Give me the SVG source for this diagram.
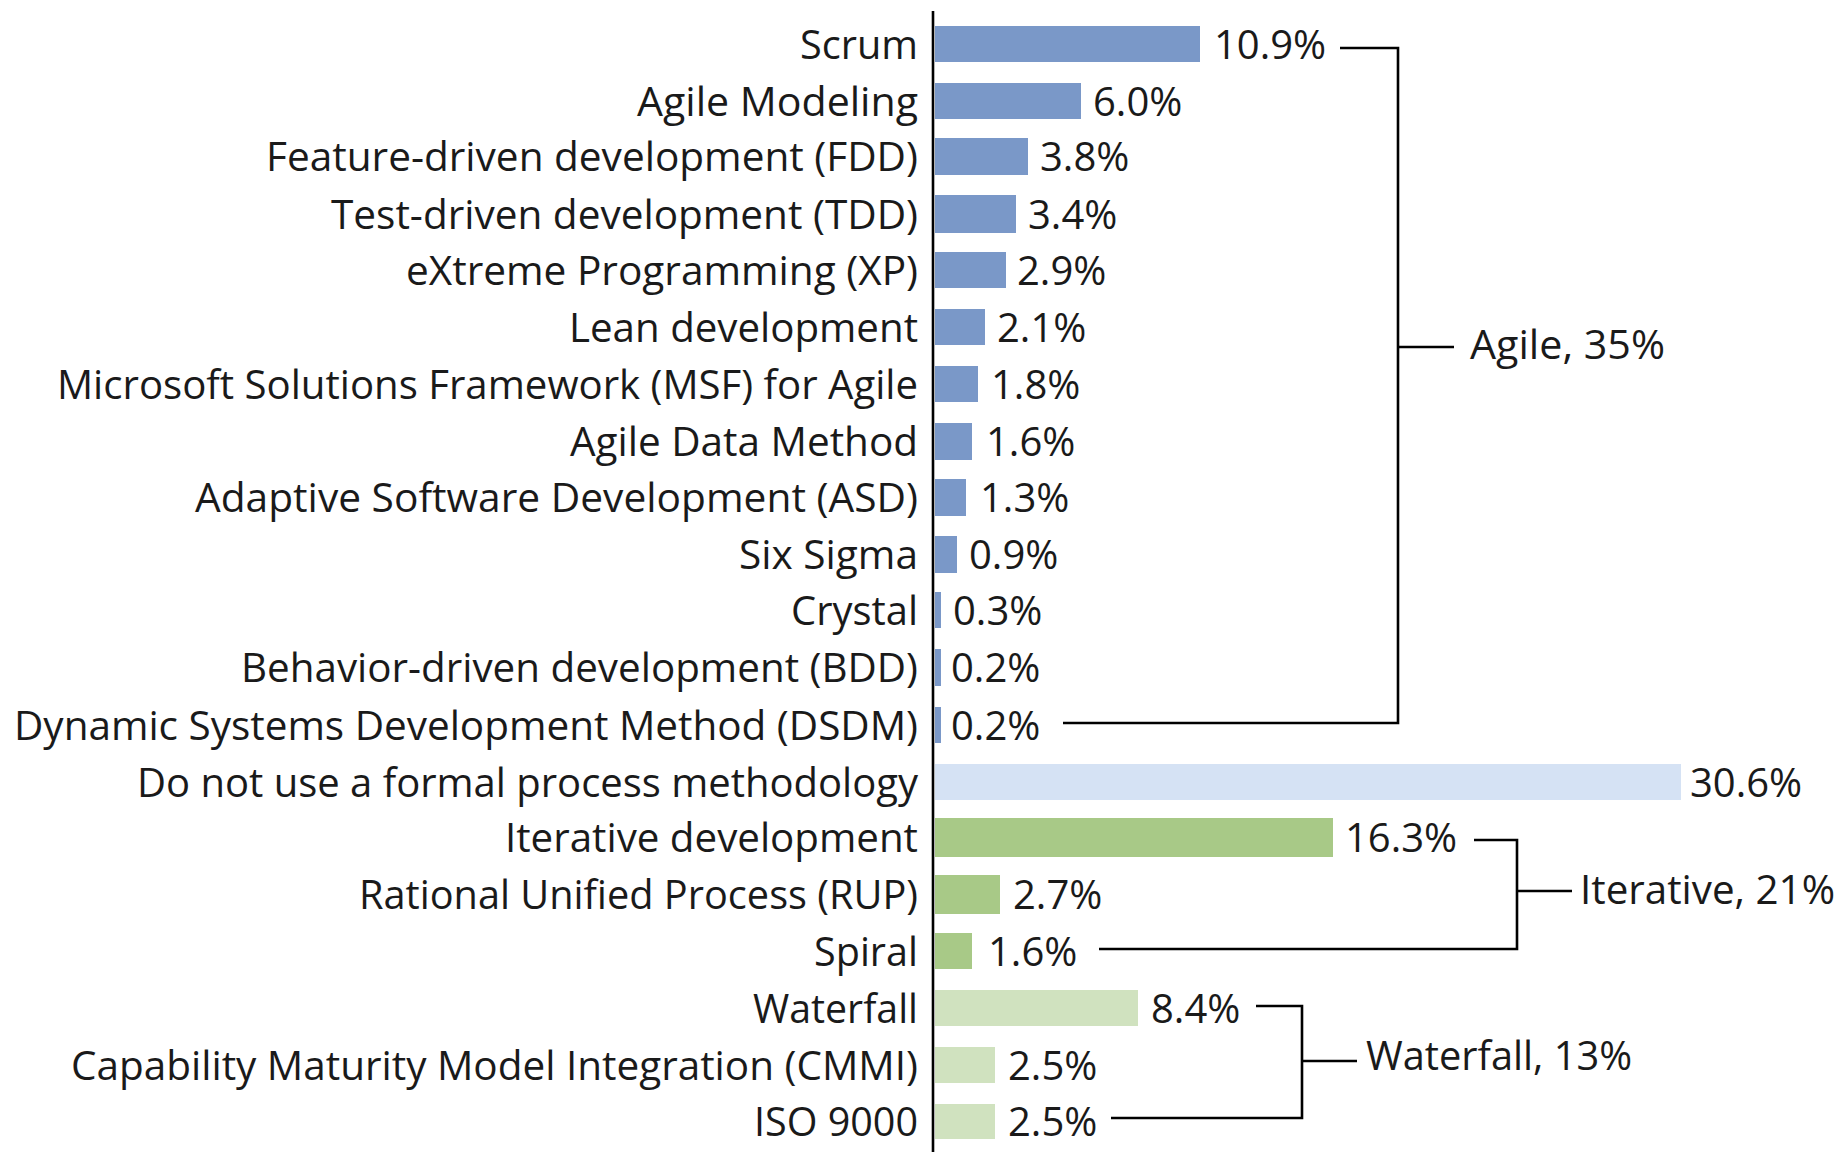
<svg xmlns="http://www.w3.org/2000/svg" width="1845" height="1152" viewBox="0 0 1845 1152">
<style>
text{font-family:"Open Sans","Noto Sans","Liberation Sans",sans-serif;font-size:40px;fill:#1a1a1a}
.agile{fill:#7a98c8}
.none{fill:#d5e2f4}
.iter{fill:#a8c987}
.wf{fill:#d0e2bf}
.ln{fill:none;stroke:#000;stroke-width:2.6}
</style>
<rect width="1845" height="1152" fill="#fff"/>
<g id="axis"><line class="ln" x1="933" y1="11" x2="933" y2="1152"/></g>
<g id="scrum"><rect class="agile" x="935" y="26" width="265" height="36"/><text x="800" y="58.5" textLength="118" lengthAdjust="spacingAndGlyphs">Scrum</text><text x="1214" y="58.5">10.9%</text></g>
<g id="agile-modeling"><rect class="agile" x="935" y="83" width="146" height="36"/><text x="637" y="115.5" textLength="281" lengthAdjust="spacingAndGlyphs">Agile Modeling</text><text x="1093" y="115.5">6.0%</text></g>
<g id="fdd"><rect class="agile" x="935" y="138" width="93" height="37"/><text x="266" y="171" textLength="652" lengthAdjust="spacingAndGlyphs">Feature-driven development (FDD)</text><text x="1040" y="171">3.8%</text></g>
<g id="tdd"><rect class="agile" x="935" y="195" width="81" height="38"/><text x="331" y="228.5" textLength="587" lengthAdjust="spacingAndGlyphs">Test-driven development (TDD)</text><text x="1028" y="228.5">3.4%</text></g>
<g id="xp"><rect class="agile" x="935" y="252" width="71" height="36"/><text x="406" y="284.5" textLength="512" lengthAdjust="spacingAndGlyphs">eXtreme Programming (XP)</text><text x="1017" y="284.5">2.9%</text></g>
<g id="lean"><rect class="agile" x="935" y="309" width="50" height="36"/><text x="569" y="341.5" textLength="349" lengthAdjust="spacingAndGlyphs">Lean development</text><text x="997" y="341.5">2.1%</text></g>
<g id="msf"><rect class="agile" x="935" y="366" width="43" height="36"/><text x="57" y="398.5" textLength="861" lengthAdjust="spacingAndGlyphs">Microsoft Solutions Framework (MSF) for Agile</text><text x="991" y="398.5">1.8%</text></g>
<g id="adm"><rect class="agile" x="935" y="423" width="37" height="37"/><text x="570" y="456" textLength="348" lengthAdjust="spacingAndGlyphs">Agile Data Method</text><text x="986" y="456">1.6%</text></g>
<g id="asd"><rect class="agile" x="935" y="479" width="31" height="37"/><text x="195" y="512" textLength="723" lengthAdjust="spacingAndGlyphs">Adaptive Software Development (ASD)</text><text x="980" y="512">1.3%</text></g>
<g id="six-sigma"><rect class="agile" x="935" y="536" width="22" height="37"/><text x="739" y="569" textLength="179" lengthAdjust="spacingAndGlyphs">Six Sigma</text><text x="969" y="569">0.9%</text></g>
<g id="crystal"><rect class="agile" x="935" y="592" width="6" height="36"/><text x="791" y="624.5" textLength="127" lengthAdjust="spacingAndGlyphs">Crystal</text><text x="953" y="624.5">0.3%</text></g>
<g id="bdd"><rect class="agile" x="935" y="649" width="6" height="37"/><text x="241" y="682" textLength="677" lengthAdjust="spacingAndGlyphs">Behavior-driven development (BDD)</text><text x="951" y="682">0.2%</text></g>
<g id="dsdm"><rect class="agile" x="935" y="707" width="6" height="36"/><text x="14" y="739.5" textLength="904" lengthAdjust="spacingAndGlyphs">Dynamic Systems Development Method (DSDM)</text><text x="951" y="739.5">0.2%</text></g>
<g id="no-method"><rect class="none" x="935" y="764" width="746" height="36"/><text x="137" y="796.5" textLength="781" lengthAdjust="spacingAndGlyphs">Do not use a formal process methodology</text><text x="1690" y="796.5">30.6%</text></g>
<g id="iterative-dev"><rect class="iter" x="935" y="818" width="398" height="39"/><text x="505" y="852" textLength="413" lengthAdjust="spacingAndGlyphs">Iterative development</text><text x="1345" y="852">16.3%</text></g>
<g id="rup"><rect class="iter" x="935" y="875" width="65" height="39"/><text x="359" y="909" textLength="559" lengthAdjust="spacingAndGlyphs">Rational Unified Process (RUP)</text><text x="1013" y="909">2.7%</text></g>
<g id="spiral"><rect class="iter" x="935" y="933" width="37" height="36"/><text x="814" y="965.5" textLength="104" lengthAdjust="spacingAndGlyphs">Spiral</text><text x="988" y="965.5">1.6%</text></g>
<g id="waterfall"><rect class="wf" x="935" y="990" width="203" height="36"/><text x="753" y="1022.5" textLength="165" lengthAdjust="spacingAndGlyphs">Waterfall</text><text x="1151" y="1022.5">8.4%</text></g>
<g id="cmmi"><rect class="wf" x="935" y="1047" width="60" height="36"/><text x="71" y="1079.5" textLength="847" lengthAdjust="spacingAndGlyphs">Capability Maturity Model Integration (CMMI)</text><text x="1008" y="1079.5">2.5%</text></g>
<g id="iso"><rect class="wf" x="935" y="1104" width="60" height="35"/><text x="754" y="1136" textLength="164" lengthAdjust="spacingAndGlyphs">ISO 9000</text><text x="1008" y="1136">2.5%</text></g>
<g id="connectors">
<path class="ln" d="M1340,48 H1398 V723 H1063"/>
<path class="ln" d="M1398,347 H1454"/>
<path class="ln" d="M1474,840 H1517 V949 H1099"/>
<path class="ln" d="M1517,891 H1572"/>
<path class="ln" d="M1256,1006 H1302 V1118 H1111"/>
<path class="ln" d="M1302,1061 H1357"/>
</g>
<g id="group-agile"><text x="1470" y="359" textLength="195" lengthAdjust="spacingAndGlyphs">Agile, 35%</text></g>
<g id="group-iterative"><text x="1580" y="904" textLength="255" lengthAdjust="spacingAndGlyphs">Iterative, 21%</text></g>
<g id="group-waterfall"><text x="1366" y="1070" textLength="266" lengthAdjust="spacingAndGlyphs">Waterfall, 13%</text></g>
</svg>
